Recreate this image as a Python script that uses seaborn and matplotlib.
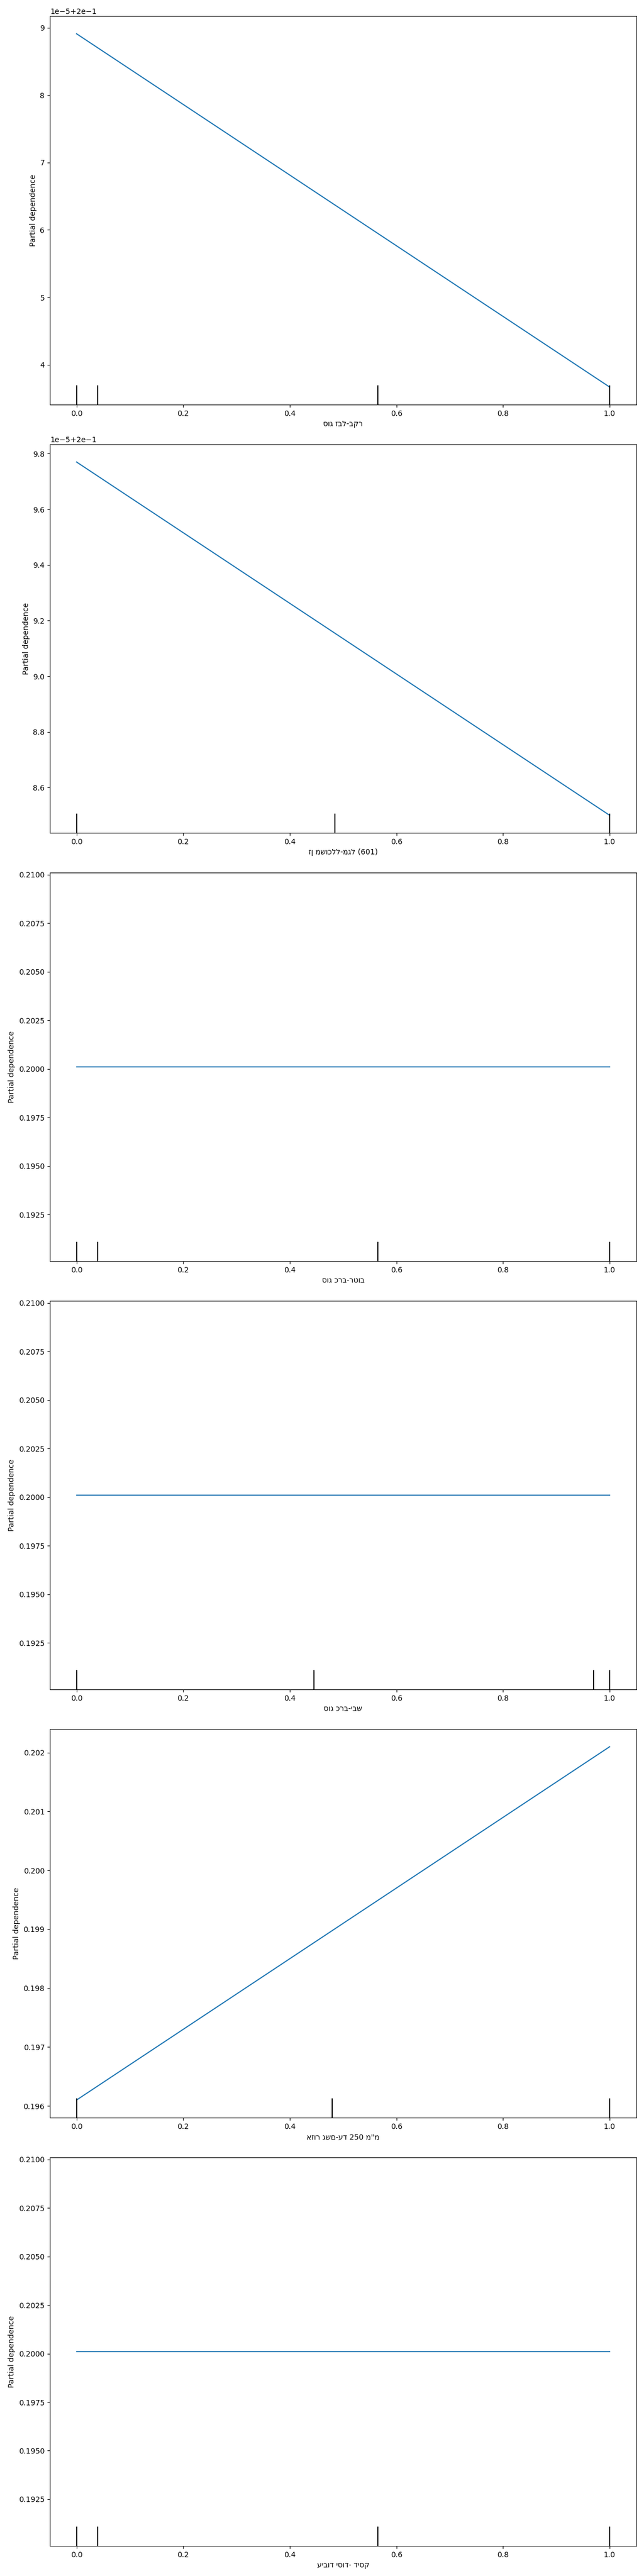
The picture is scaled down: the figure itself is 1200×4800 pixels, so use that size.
import warnings
import matplotlib
matplotlib.use("Agg")
import matplotlib.pyplot as plt
import seaborn as sns

# grid values of each feature (binary features -> two grid points)
grid = [0.0, 1.0]

# Hebrew feature names (matplotlib draws them left-to-right, as in the original)
labels = [
    "סוג זבל-בקר",
    "זן משוכלל-מגל (601)",
    "סוג כרב-רטוב",
    "סוג כרב-יבש",
    'אזור גשם-עד 250 מ"מ',
    "עיבוד יסוד- דיסק",
]

# partial dependence averages at the two grid points
pd_manure = [0.2000891, 0.2000367]
pd_variety = [0.2000977, 0.2000850]
pd_wet = [0.2001, 0.2001]
pd_dry = [0.2001, 0.2001]
pd_rain = [0.19610, 0.20210]
pd_tillage = [0.2001, 0.2001]
pd_values = [pd_manure, pd_variety, pd_wet, pd_dry, pd_rain, pd_tillage]

# deciles of each feature (rug marks at the bottom)
deciles = [
    [0.0, 0.04, 0.565, 1.0],
    [0.0, 0.485, 1.0],
    [0.0, 0.04, 0.565, 1.0],
    [0.0, 0.445, 0.97, 1.0],
    [0.0, 0.48, 1.0],
    [0.0, 0.04, 0.565, 1.0],
]

plt.rcParams["font.family"] = ["DejaVu Sans"]
warnings.filterwarnings("ignore")

fig, axes = plt.subplots(6, 1, figsize=(12, 48), dpi=100)
fig.subplots_adjust(left=0.0775, right=0.988, top=0.99375, bottom=0.01167, hspace=0.102)

for ax, y, dec, lab in zip(axes, pd_values, deciles, labels):
    sns.lineplot(x=grid, y=y, ax=ax, color="#1f77b4")
    xlim = ax.get_xlim()
    ax.vlines(dec, 0, 0.05, transform=ax.get_xaxis_transform(), color="k")
    ax.set_xlim(xlim)
    # y limits as in sklearn: 5% of the span on each side
    span = max(y) - min(y)
    ax.set_ylim(min(y) - 0.05 * span, max(y) + 0.05 * span)
    ax.set_xlabel(lab)
    ax.set_ylabel("Partial dependence")

fig.savefig("out.png", dpi=100)
